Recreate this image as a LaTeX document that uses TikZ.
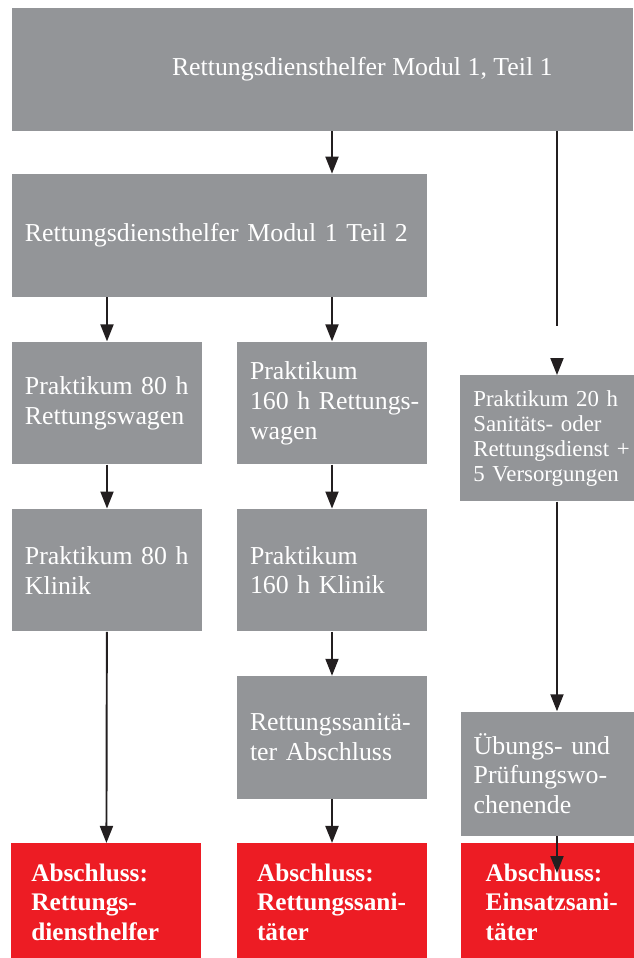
\documentclass[tikz,border=0pt]{standalone}
\usepackage{fontspec}
\setmainfont{Liberation Serif}
\usetikzlibrary{positioning,arrows.meta}
\definecolor{boxgray}{RGB}{147,149,152}
\definecolor{boxred}{RGB}{237,28,36}
\definecolor{arrowblack}{RGB}{35,31,32}
\tikzset{
  box/.style={rectangle, fill=boxgray, text=white, align=left, inner ysep=0pt,
    font=\fontsize{14.7}{17}\selectfont},
  graybox/.style={box, inner xsep=0.26cm, text width=3.28cm, minimum height=2.45cm},
  smallbox/.style={box, inner xsep=0.26cm, text width=3.3cm,
    font=\fontsize{13}{14.2}\selectfont},
  redbox/.style={box, fill=boxred, inner xsep=0.4cm, text width=3cm, minimum height=2.36cm,
    font=\bfseries\fontsize{14.4}{16.8}\selectfont},
  line/.style={draw=arrowblack, line width=1.1pt},
  arr/.style={line, -{Triangle[length=0.34cm, width=0.26cm]}}
}
\begin{document}
\begin{tikzpicture}
  \useasboundingbox (0,0) rectangle (12.66,-19.16);
  % top rows
  \node (m1t1) [box, minimum width=12.42cm, minimum height=2.46cm] at (6.45,-1.39) {};
  \node (m1t1lbl) [text=white, inner sep=0pt, anchor=west, font=\fontsize{14.7}{17}\selectfont]
    at ([xshift=3.2cm]m1t1.west) {Rettungsdiensthelfer Modul 1, Teil 1};
  \node (m1t2) [box, inner xsep=0.26cm, text width=7.78cm, minimum height=2.46cm] at (4.39,-4.71)
    {Rettungsdiensthelfer Modul 1 Teil 2};
  % left and middle columns
  \node (p80rw) [graybox, below=0.88cm of m1t2.south west, anchor=north west] {\mbox{Praktikum 80 h}\\Rettungswagen};
  \node (p160rw) [graybox, below=0.88cm of m1t2.south east, anchor=north east] {Praktikum\\\mbox{160 h Rettungs-}\\wagen};
  \node (p80kl) [graybox, below=0.88cm of p80rw] {\mbox{Praktikum 80 h}\\Klinik};
  \node (p160kl) [graybox, below=0.88cm of p160rw] {Praktikum\\\mbox{160 h Klinik}};
  \node (rsab) [graybox, below=0.88cm of p160kl] {\mbox{Rettungssanitä-}\\\mbox{ter Abschluss}};
  \node (abrs) [redbox, below=0.88cm of rsab] {Abschluss:\\\mbox{Rettungssani-}\\täter};
  \node (abrh) [redbox, left=0.7cm of abrs] {Abschluss:\\\mbox{Rettungs-}\\diensthelfer};
  % right column
  \node (p20) [smallbox, minimum height=2.52cm, anchor=north west] at (9.2,-7.5)
    {\mbox{Praktikum 20 h}\\\mbox{Sanitäts- oder}\\\mbox{Rettungsdienst +}\\\mbox{5 Versorgungen}};
  \node (abes) [redbox, right=0.66cm of abrs, inner xsep=0.5cm, text width=2.8cm] {Abschluss:\\\mbox{Einsatzsani-}\\täter};
  \node (uebung) [smallbox, above=0.14cm of abes.north west, anchor=south west, minimum height=2.48cm,
    font=\fontsize{14.7}{17}\selectfont] {\mbox{Übungs- und}\\\mbox{Prüfungswo-}\\chenende};
  \coordinate (c3top) at (11.14,-6.52);
  \coordinate (c3gap) at (11.14,-7.16);
  \coordinate (c3end) at (11.14,-17.46);
  % connectors
  \draw[arr] (m1t1.south -| p160rw.north) -- (m1t2.north -| p160rw.north);
  \draw[arr] (m1t2.south -| p80rw.north) -- (p80rw);
  \draw[arr] (m1t2.south -| p160rw.north) -- (p160rw);
  \draw[arr] (p80rw) -- (p80kl);
  \draw[arr] (p160rw) -- (p160kl);
  \draw[arr] (p80kl) -- (abrh);
  \draw[arr] (p160kl) -- (rsab);
  \draw[arr] (rsab) -- (abrs);
  \draw[line] (m1t1.south -| c3top) -- (c3top);
  \draw[arr] (c3gap) -- (c3gap |- p20.north);
  \draw[arr] (p20.south -| c3top) -- (uebung.north -| c3top);
  \draw[arr] (uebung.south -| c3top) -- (c3end);
\end{tikzpicture}
\end{document}
